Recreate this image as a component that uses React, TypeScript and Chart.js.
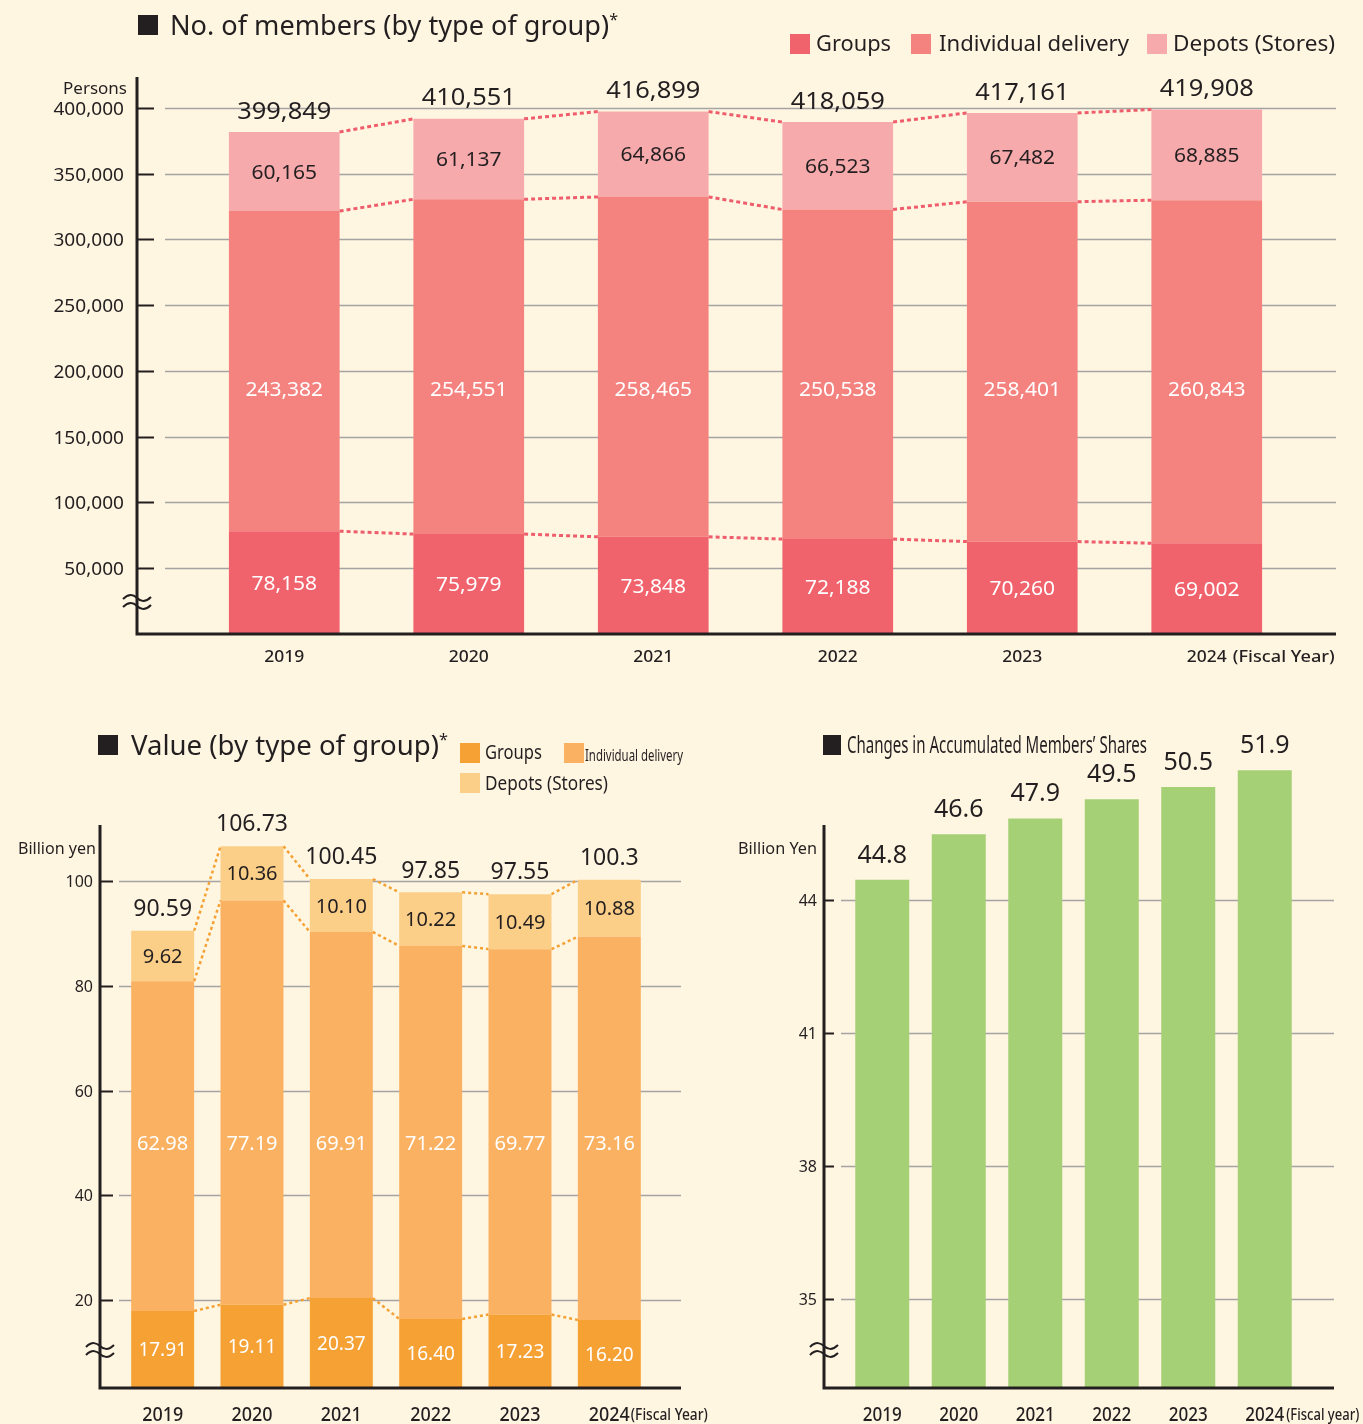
import React, { useEffect, useLayoutEffect, useRef } from 'react';
import { Chart, LinearScale, registerables } from 'chart.js';

Chart.register(...registerables);

const W = 1363;
const H = 1424;
const FONT = '"Noto Sans", "DejaVu Sans", sans-serif';
const BG = '#FFF6E2';
const INK = '#231F20';
const GRID = '#A4A4A4';

// ---------- data ----------
const years = ['2019', '2020', '2021', '2022', '2023', '2024'];

const memberGroups = [78158, 75979, 73848, 72188, 70260, 69002];
const memberIndividual = [243382, 254551, 258465, 250538, 258401, 260843];
const memberDepots = [60165, 61137, 64866, 66523, 67482, 68885];
const memberTotals = [399849, 410551, 416899, 418059, 417161, 419908];
const memberTicks = [50000, 100000, 150000, 200000, 250000, 300000, 350000, 400000];

const valueGroups = [17.91, 19.11, 20.37, 16.4, 17.23, 16.2];
const valueIndividual = [62.98, 77.19, 69.91, 71.22, 69.77, 73.16];
const valueDepots = [9.62, 10.36, 10.1, 10.22, 10.49, 10.88];
const valueTotals = [90.59, 106.73, 100.45, 97.85, 97.55, 100.3];
const valueTicks = [20, 40, 60, 80, 100];

const shareValues = [44.8, 46.6, 47.9, 49.5, 50.5, 51.9];
const shareTicks = [35, 38, 41, 44];

// compressed upper part of the shares axis: [from value, compression factor]
const SHARE_BREAKS: [number, number][] = [
  [44, 0.571],
  [46.6, 0.272],
];

class CompressedScale extends LinearScale {
  static id = 'compressed';
  warp(v: number): number {
    let w = SHARE_BREAKS.length ? Math.min(v, SHARE_BREAKS[0][0]) : v;
    for (let i = 0; i < SHARE_BREAKS.length; i++) {
      const s = SHARE_BREAKS[i][0];
      const e = i + 1 < SHARE_BREAKS.length ? SHARE_BREAKS[i + 1][0] : Infinity;
      if (v > s) w += (Math.min(v, e) - s) * SHARE_BREAKS[i][1];
    }
    return w;
  }
  unwarp(w: number): number {
    if (!SHARE_BREAKS.length || w <= SHARE_BREAKS[0][0]) return w;
    let acc = SHARE_BREAKS[0][0];
    for (let i = 0; i < SHARE_BREAKS.length; i++) {
      const s = SHARE_BREAKS[i][0];
      const f = SHARE_BREAKS[i][1];
      const e = i + 1 < SHARE_BREAKS.length ? SHARE_BREAKS[i + 1][0] : Infinity;
      const len = (e - s) * f;
      if (w <= acc + len) return s + (w - acc) / f;
      acc += len;
    }
    return w;
  }
  getPixelForValue(value: any) {
    if (value === null || value === undefined || Number.isNaN(+value)) return NaN;
    const a = this.warp(this.min);
    const b = this.warp(this.max);
    return this.getPixelForDecimal((this.warp(+value) - a) / (b - a));
  }
  getValueForPixel(pixel: number) {
    const a = this.warp(this.min);
    const b = this.warp(this.max);
    return this.unwarp(a + this.getDecimalForPixel(pixel) * (b - a));
  }
}
Chart.register(CompressedScale as any);

// ---------- drawing helpers ----------
type TextOpt = {
  size: number;
  weight?: number;
  color?: string;
  align?: 'left' | 'center' | 'right';
  sx?: number;
  fitW?: number;
};

function drawText(ctx: CanvasRenderingContext2D, str: string, x: number, cy: number, o: TextOpt) {
  ctx.save();
  ctx.font = `${o.weight ?? 400} ${o.size}px ${FONT}`;
  ctx.fillStyle = o.color ?? INK;
  ctx.textBaseline = 'alphabetic';
  ctx.textAlign = 'left';
  const m = ctx.measureText(str).width;
  const sx = o.fitW ? o.fitW / m : o.sx ?? 1;
  const w = m * sx;
  const left = o.align === 'center' ? x - w / 2 : o.align === 'right' ? x - w : x;
  ctx.translate(left, cy + 0.357 * o.size);
  ctx.scale(sx, 1);
  ctx.fillText(str, 0, 0);
  ctx.restore();
  return w;
}

function drawBreak(ctx: CanvasRenderingContext2D, x: number, y: number) {
  ctx.save();
  ctx.setLineDash([]);
  ctx.strokeStyle = INK;
  ctx.lineWidth = 2;
  for (const dy of [-4, 4]) {
    ctx.beginPath();
    ctx.moveTo(x - 14, y + dy + 1);
    ctx.bezierCurveTo(x - 8, y + dy - 5, x - 3, y + dy - 3, x, y + dy);
    ctx.bezierCurveTo(x + 3, y + dy + 3, x + 8, y + dy + 5, x + 14, y + dy - 1);
    ctx.stroke();
  }
  ctx.restore();
}

type SegLabel = { color: string; size: number; sx?: number; fmt: (v: number) => string; at?: number };
type Decor = {
  axisX: number; axisTop: number; baseY: number; axisRight: number;
  ticks: number[]; tickFmt: (v: number) => string; tickEnd: number; gridStart: number;
  tickLabelRight: number; tickSize: number; tickSx?: number;
  unit: string; unitRight: number; unitY: number; unitSize: number; unitFitW?: number;
  breakY: number;
  xLabelY: number; xSize: number; xWeight: number; xFitW?: number;
  suffix: string; suffixGap: number; suffixSize: number; suffixFitW?: number;
  connector: { color: string; width: number; dash: number[] } | null;
  seg: SegLabel[];
  totals: number[]; totalFmt: (v: number) => string; totalOffset: number; totalSize: number; totalSx?: number;
};

function decorPlugin(d: Decor) {
  return {
    id: 'decor',
    beforeDatasetsDraw(chart: any) {
      const ctx: CanvasRenderingContext2D = chart.ctx;
      const y = chart.scales.y;
      ctx.save();
      d.ticks.forEach((v) => {
        const py = Math.round(y.getPixelForValue(v)) + 0.5;
        ctx.strokeStyle = GRID;
        ctx.lineWidth = 1.5;
        ctx.beginPath();
        ctx.moveTo(d.gridStart, py);
        ctx.lineTo(d.axisRight, py);
        ctx.stroke();
        ctx.strokeStyle = INK;
        ctx.lineWidth = 2;
        ctx.beginPath();
        ctx.moveTo(d.axisX, py);
        ctx.lineTo(d.tickEnd, py);
        ctx.stroke();
        drawText(ctx, d.tickFmt(v), d.tickLabelRight, py, { size: d.tickSize, align: 'right', sx: d.tickSx });
      });
      drawText(ctx, d.unit, d.unitRight, d.unitY, { size: d.unitSize, align: 'right', fitW: d.unitFitW });
      ctx.restore();
    },
    afterDatasetsDraw(chart: any) {
      const ctx: CanvasRenderingContext2D = chart.ctx;
      const y = chart.scales.y;
      const bottom = chart.chartArea.bottom;
      const metas = chart.data.datasets.map((_: any, i: number) => chart.getDatasetMeta(i));
      ctx.save();
      // dotted connectors
      if (d.connector) {
        ctx.strokeStyle = d.connector.color;
        ctx.lineWidth = d.connector.width;
        ctx.setLineDash(d.connector.dash);
        metas.forEach((meta: any) => {
          for (let i = 0; i < meta.data.length - 1; i++) {
            const a = meta.data[i];
            const b = meta.data[i + 1];
            ctx.beginPath();
            ctx.moveTo(a.x + a.width / 2, a.y);
            ctx.lineTo(b.x - b.width / 2, b.y);
            ctx.stroke();
          }
        });
        ctx.setLineDash([]);
      }
      // segment labels
      metas.forEach((meta: any, di: number) => {
        const s = d.seg[di];
        if (!s) return;
        meta.data.forEach((el: any, i: number) => {
          const v = chart.data.datasets[di].data[i] as number;
          const base = Math.min(el.base, bottom);
          const cy = s.at !== undefined ? y.getPixelForValue(s.at) : (el.y + base) / 2;
          drawText(ctx, s.fmt(v), el.x, cy, { size: s.size, color: s.color, align: 'center', sx: s.sx });
        });
      });
      // totals
      const topMeta = metas[metas.length - 1];
      d.totals.forEach((t, i) => {
        const el = topMeta.data[i];
        drawText(ctx, d.totalFmt(t), el.x, el.y - d.totalOffset, { size: d.totalSize, align: 'center', sx: d.totalSx });
      });
      // axes
      ctx.strokeStyle = INK;
      ctx.lineWidth = 3;
      ctx.lineCap = 'butt';
      ctx.beginPath();
      ctx.moveTo(d.axisX, d.axisTop);
      ctx.lineTo(d.axisX, d.baseY);
      ctx.lineTo(d.axisRight, d.baseY);
      ctx.stroke();
      drawBreak(ctx, d.axisX, d.breakY);
      // x labels
      const labels: string[] = chart.data.labels;
      topMeta.data.forEach((el: any, i: number) => {
        const w = drawText(ctx, labels[i], el.x, d.xLabelY, {
          size: d.xSize, weight: d.xWeight, align: 'center', fitW: d.xFitW,
        });
        if (i === labels.length - 1) {
          drawText(ctx, d.suffix, el.x + w / 2 + d.suffixGap, d.xLabelY, {
            size: d.suffixSize, weight: d.xWeight, align: 'left', fitW: d.suffixFitW,
          });
        }
      });
      ctx.restore();
    },
  };
}

const fmtInt = (v: number) => v.toLocaleString('en-US');
const fmt2 = (v: number) => v.toFixed(2);

function baseOptions(padding: any, yScale: any, barPct: number) {
  return {
    responsive: false,
    animation: false as const,
    events: [] as any[],
    layout: { padding },
    plugins: { legend: { display: false }, tooltip: { enabled: false }, title: { display: false } },
    scales: {
      x: { stacked: true, display: false },
      y: { stacked: true, display: false, ...yScale },
    },
    datasets: { bar: { barPercentage: barPct, categoryPercentage: 1, borderWidth: 0 } },
  };
}

function makeMembers(): any {
  return {
    type: 'bar',
    data: {
      labels: years,
      datasets: [
        { label: 'Groups', data: memberGroups, backgroundColor: '#F0626C' },
        { label: 'Individual delivery', data: memberIndividual, backgroundColor: '#F48380' },
        { label: 'Depots (Stores)', data: memberDepots, backgroundColor: '#F7AAAC' },
      ],
    },
    options: baseOptions({ left: 192, right: W - 1299, top: 75, bottom: H - 634 }, { min: 0, max: 425000 }, 0.6),
    plugins: [
      decorPlugin({
        axisX: 137, axisTop: 77, baseY: 634, axisRight: 1336,
        ticks: memberTicks, tickFmt: fmtInt, tickEnd: 154, gridStart: 165,
        tickLabelRight: 124, tickSize: 18, tickSx: 1.06,
        unit: 'Persons', unitRight: 127, unitY: 88, unitSize: 16, unitFitW: 64,
        breakY: 602,
        xLabelY: 656, xSize: 17, xWeight: 500, xFitW: 40,
        suffix: '(Fiscal Year)', suffixGap: 6, suffixSize: 17, suffixFitW: 102,
        connector: { color: '#EE5D6B', width: 3, dash: [4, 3] },
        seg: [
          { color: '#FFFFFF', size: 20, sx: 1.05, fmt: fmtInt },
          { color: '#FFFFFF', size: 20, sx: 1.05, fmt: fmtInt, at: 186000 },
          { color: INK, size: 20, sx: 1.05, fmt: fmtInt },
        ],
        totals: memberTotals, totalFmt: fmtInt, totalOffset: 22, totalSize: 24, totalSx: 1.06,
      }),
    ],
  };
}

function makeValue(): any {
  return {
    type: 'bar',
    data: {
      labels: years,
      datasets: [
        { label: 'Groups', data: valueGroups, backgroundColor: '#F6A133' },
        { label: 'Individual delivery', data: valueIndividual, backgroundColor: '#FAB161' },
        { label: 'Depots (Stores)', data: valueDepots, backgroundColor: '#FCCF88' },
      ],
    },
    options: baseOptions({ left: 118, right: W - 654, top: 825, bottom: H - 1387 }, { min: 3.4, max: 110.7 }, 0.705),
    plugins: [
      decorPlugin({
        axisX: 100, axisTop: 825, baseY: 1388, axisRight: 681,
        ticks: valueTicks, tickFmt: (v) => String(v), tickEnd: 113, gridStart: 119,
        tickLabelRight: 93, tickSize: 16,
        unit: 'Billion yen', unitRight: 96, unitY: 848, unitSize: 16, unitFitW: 78,
        breakY: 1350,
        xLabelY: 1414, xSize: 19, xWeight: 500, xFitW: 41,
        suffix: '(Fiscal Year)', suffixGap: 1, suffixSize: 16, suffixFitW: 77,
        connector: { color: '#F5A033', width: 2.5, dash: [3, 3] },
        seg: [
          { color: '#FFFFFF', size: 20, sx: 0.95, fmt: fmt2 },
          { color: '#FFFFFF', size: 20, sx: 1.0, fmt: fmt2, at: 50 },
          { color: INK, size: 20, sx: 1.0, fmt: fmt2 },
        ],
        totals: valueTotals, totalFmt: (v) => String(v), totalOffset: 23, totalSize: 23,
      }),
    ],
  };
}

function makeShares(): any {
  return {
    type: 'bar',
    data: {
      labels: years,
      datasets: [{ label: 'Accumulated Members’ Shares', data: shareValues, backgroundColor: '#A5D076' }],
    },
    options: baseOptions(
      { left: 844, right: W - 1303, top: 769, bottom: H - 1388 },
      { type: 'compressed', min: 33, max: 52 },
      0.706,
    ),
    plugins: [
      decorPlugin({
        axisX: 824, axisTop: 825, baseY: 1388, axisRight: 1334,
        ticks: shareTicks, tickFmt: (v) => String(v), tickEnd: 834, gridStart: 841,
        tickLabelRight: 817, tickSize: 16,
        unit: 'Billion Yen', unitRight: 817, unitY: 848, unitSize: 16, unitFitW: 79,
        breakY: 1350,
        xLabelY: 1414, xSize: 19, xWeight: 500, xFitW: 39,
        suffix: '(Fiscal year)', suffixGap: 2, suffixSize: 16, suffixFitW: 73,
        connector: null,
        seg: [],
        totals: shareValues, totalFmt: (v) => v.toFixed(1), totalOffset: 26, totalSize: 25,
      }),
    ],
  };
}

function ChartCanvas({ make }: { make: () => any }) {
  const ref = useRef<HTMLCanvasElement>(null);
  useEffect(() => {
    if (!ref.current) return;
    const chart = new Chart(ref.current, make());
    return () => chart.destroy();
  }, [make]);
  return (
    <canvas
      ref={ref}
      width={W}
      height={H}
      style={{ position: 'absolute', left: 0, top: 0, width: W, height: H }}
    />
  );
}

function Fit({ x, cy, w, size, weight = 400, children }: any) {
  const ref = useRef<HTMLDivElement>(null);
  useLayoutEffect(() => {
    const el = ref.current;
    if (!el) return;
    el.style.transform = 'none';
    const m = el.getBoundingClientRect().width;
    if (m > 0) el.style.transform = `scaleX(${w / m})`;
  }, [w]);
  return (
    <div
      ref={ref}
      style={{
        position: 'absolute',
        left: x,
        top: cy - size * 0.53,
        fontSize: size,
        lineHeight: `${size}px`,
        height: size,
        fontFamily: FONT,
        fontWeight: weight,
        color: INK,
        whiteSpace: 'nowrap',
        transformOrigin: '0 0',
      }}
    >
      {children}
    </div>
  );
}

function Box({ x, y, w = 20, h = 20, color }: any) {
  return <div style={{ position: 'absolute', left: x, top: y, width: w, height: h, background: color }} />;
}

const Star = ({ size }: { size: number }) => (
  <span style={{ fontSize: size, position: 'relative', top: -size * 0.6 }}>*</span>
);

export default function App() {
  return (
    <div
      style={{
        position: 'absolute',
        left: 0,
        top: 0,
        width: W,
        height: H,
        background: BG,
        overflow: 'hidden',
        fontFamily: FONT,
      }}
    >
      <ChartCanvas make={makeMembers} />
      <ChartCanvas make={makeValue} />
      <ChartCanvas make={makeShares} />

      {/* Members title and legend */}
      <Box x={138} y={15} color={INK} />
      <Fit x={170} cy={25} w={448} size={27}>
        No. of members (by type of group)<Star size={16} />
      </Fit>
      <Box x={790} y={34} color="#F0626C" />
      <Fit x={816} cy={44} w={75} size={21}>Groups</Fit>
      <Box x={911} y={34} color="#F48380" />
      <Fit x={939} cy={44} w={190} size={21}>Individual delivery</Fit>
      <Box x={1147} y={34} color="#F7AAAC" />
      <Fit x={1173} cy={44} w={162} size={21}>Depots (Stores)</Fit>

      {/* Value title and legend */}
      <Box x={98} y={735} color={INK} />
      <Fit x={131} cy={745} w={317} size={27}>
        Value (by type of group)<Star size={16} />
      </Fit>
      <Box x={460} y={743} color="#F6A133" />
      <Fit x={485} cy={753} w={57} size={20}>Groups</Fit>
      <Box x={564} y={743} color="#FAB161" />
      <Fit x={585} cy={755} w={98} size={17}>Individual delivery</Fit>
      <Box x={460} y={773} color="#FCCF88" />
      <Fit x={485} cy={784} w={123} size={20}>Depots (Stores)</Fit>

      {/* Shares title */}
      <Box x={823} y={735} w={18} h={20} color={INK} />
      <Fit x={847} cy={745} w={300} size={23}>Changes in Accumulated Members’ Shares</Fit>
    </div>
  );
}
